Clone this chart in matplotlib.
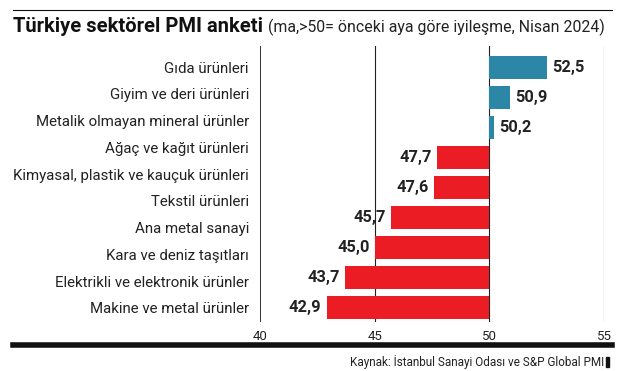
import matplotlib
matplotlib.use("Agg")
import matplotlib.pyplot as plt
import numpy as np

plt.rcParams["font.family"] = ["Roboto", "DejaVu Sans"]

categories = [
    "Gıda ürünleri",
    "Giyim ve deri ürünleri",
    "Metalik olmayan mineral ürünler",
    "Ağaç ve kağıt ürünleri",
    "Kimyasal, plastik ve kauçuk ürünleri",
    "Tekstil ürünleri",
    "Ana metal sanayi",
    "Kara ve deniz taşıtları",
    "Elektrikli ve elektronik ürünler",
    "Makine ve metal ürünler",
]
# the source graphic shows nine bars against ten labels
values = [52.5, 50.9, 50.2, 47.7, 47.6, 45.7, 45.0, 43.7, 42.9]
xticks = [40, 45, 50, 55]

BASE = 50
BLUE = "#2B87A5"
RED = "#EC1C24"
TXT = "#222222"

fig = plt.figure(figsize=(6.33, 3.71), dpi=100)
ax = fig.add_axes([260 / 633, 1 - 322 / 371, 344 / 633, 276 / 371])

nb = len(values)
ypos = np.arange(nb)[::-1]
for y, v in zip(ypos, values):
    color = BLUE if v >= BASE else RED
    ax.barh(y, v - BASE, left=BASE, height=0.76, color=color, zorder=3)
    label = f"{v:.1f}".replace(".", ",")
    if v >= BASE:
        ax.text(v + 0.22, y, label, ha="left", va="center", fontsize=11.8,
                fontweight="bold", color=TXT)
    else:
        ax.text(v - 0.22, y, label, ha="right", va="center", fontsize=11.8,
                fontweight="bold", color=TXT)

ax.set_xlim(40, 55)
ax.set_ylim(-0.47, nb - 1 + 0.7)
# category labels spread evenly over the same span as the bars
label_y = np.linspace(nb - 1, 0, len(categories))
ax.set_yticks(label_y)
ax.set_yticklabels(categories, fontsize=10.8, color=TXT)
ax.set_xticks(xticks)
ax.set_xticklabels([str(t) for t in xticks], fontsize=9.5, color=TXT)
ax.tick_params(axis="both", length=0)
ax.tick_params(axis="y", pad=8)
ax.tick_params(axis="x", pad=6)
for s in ax.spines.values():
    s.set_visible(False)
for t in xticks[1:]:
    ax.axvline(t, color=TXT, lw=0.8, zorder=1)
ax.axvline(40, color="#111111", lw=1.2, zorder=4)

# header / footer
fig.add_artist(plt.Line2D([13 / 633, 612 / 633], [1 - 10 / 371] * 2, color="#111111", lw=0.8))
fig.add_artist(plt.Line2D([13 / 633, 612 / 633], [1 - 345 / 371] * 2, color="#111111", lw=4))
t1 = fig.text(13 / 633, 1 - 32 / 371, "Türkiye sektörel PMI anketi", fontsize=14.5,
              fontweight="bold", ha="left", va="baseline", color="#111111")
fig.canvas.draw()
bb = t1.get_window_extent()
fig.text(bb.x1 / 633 + 0.008, 1 - 32 / 371,
         "(ma,>50= önceki aya göre iyileşme, Nisan 2024)", fontsize=11.4,
         ha="left", va="baseline", color=TXT)
fig.text(604 / 633, 1 - 362 / 371, "Kaynak: İstanbul Sanayi Odası ve S&P Global PMI",
         fontsize=8.5, ha="right", va="center", color=TXT)
fig.add_artist(plt.Rectangle((606 / 633, 1 - 367 / 371), 3 / 633, 10 / 371,
                             color="#111111"))

fig.savefig("out.png", dpi=100, facecolor="white")
